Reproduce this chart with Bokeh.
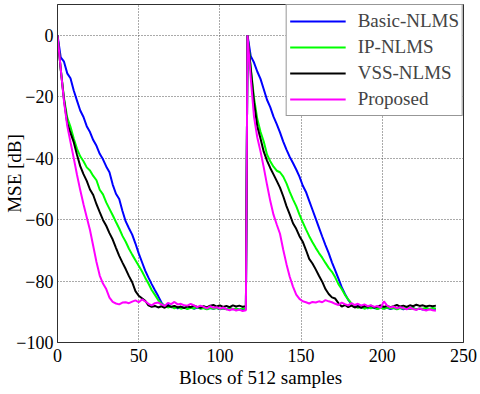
from bokeh.plotting import figure
from bokeh.models import FixedTicker, Legend, LegendItem, Range1d
from bokeh.embed import file_html
from bokeh.resources import INLINE

# x positions (blocks of 512 samples): two experiments, restart at block 117
blocks_run1 = list(range(0, 117, 2))
blocks_run2 = list(range(117, 234, 2))
blocks = blocks_run1 + blocks_run2

x_ticks = [0, 50, 100, 150, 200, 250]
y_ticks = [-100, -80, -60, -40, -20, 0]

basic_nlms = [
    0, -7.2, -8.6, -12.4, -14.0, -18.0, -21.3, -24.5, -26.6, -29.6, -31.5, -34.1, -36.0, -38.6, -40.4,
    -42.7, -44.6, -48.6, -51.6, -53.3, -57.2, -60.6, -62.8, -64.9, -67.8, -71.0, -73.8, -76.6, -78.9,
    -81.0, -83.0, -84.9, -87.0,
    -88.3, -87.6, -88.5, -88.2, -88.9, -88.4, -88.7, -88.9, -88.5, -89.0, -88.6, -88.9, -88.7, -89.1,
    -88.8, -89.0, -88.7, -89.2, -88.9, -89.1, -88.8, -89.2, -89.0, -89.3, -89.0, -89.2,
    # run 2
    0, -6.8, -8.9, -11.8, -14.2, -17.6, -21.0, -23.4, -26.5, -28.9, -31.6, -34.6, -37.2, -39.6, -41.6,
    -43.7, -46.0, -48.9, -51.0, -53.9, -56.8, -59.7, -62.6, -65.5, -68.3, -70.9, -73.9, -76.5, -79.2,
    -82.0, -84.2, -86.1, -87.4, -88.5, -88.1,
    -88.6, -88.3, -88.9, -88.5, -88.8, -89.0, -88.6, -88.9, -88.7, -89.1, -88.8, -89.0, -88.7, -89.2,
    -88.9, -89.1, -88.8, -89.2, -89.0, -89.3, -89.0, -89.2, -88.9, -89.1,
]

ip_nlms = [
    0, -11.0, -20.5, -26.8, -29.8, -33.6, -37.0, -39.4, -41.0, -43.0, -44.0, -45.8, -47.2, -50.3, -51.8,
    -54.4, -56.5, -58.6, -60.8, -62.9, -65.3, -67.2, -69.5, -71.4, -73.2, -75.0, -76.8, -78.9, -80.8,
    -82.9, -84.5, -86.2, -87.4, -88.0, -88.6,
    -88.3, -88.9, -88.5, -89.0, -88.6, -89.1, -88.7, -88.9, -88.5, -89.0, -88.8, -89.2, -88.7, -89.0,
    -88.8, -89.1, -88.9, -89.2, -88.8, -89.1, -89.0, -89.3, -88.9, -89.1,
    # run 2
    0, -10.5, -20.4, -27.2, -31.4, -34.6, -38.8, -41.0, -42.8, -44.1, -44.6, -46.0, -48.2, -51.0, -53.4,
    -55.6, -58.4, -60.8, -63.2, -65.4, -67.4, -69.2, -70.9, -72.4, -74.1, -75.7, -77.0, -78.8, -81.0,
    -82.6, -84.5, -86.0, -87.3, -88.2, -88.7,
    -88.4, -89.0, -88.6, -88.9, -88.5, -89.1, -88.7, -89.0, -88.6, -88.9, -88.7, -89.2, -88.8, -89.0,
    -88.6, -89.1, -88.8, -89.2, -88.9, -89.0, -88.7, -89.1, -88.8, -89.0,
]

vss_nlms = [
    0, -11.2, -21.0, -28.6, -31.8, -34.8, -38.9, -42.6, -45.2, -47.4, -50.2, -52.0, -55.0, -57.6, -60.1,
    -62.0, -64.4, -66.5, -69.2, -71.8, -74.0, -76.1, -78.4, -80.4, -83.3, -84.8, -85.6, -86.4, -87.9,
    -88.4, -88.1, -88.6, -88.2, -88.7, -88.0, -88.4, -88.1, -88.6, -88.3, -88.8, -88.2, -88.5, -88.0,
    -88.4, -88.7, -88.2, -88.6, -88.0, -87.8, -88.3, -87.9, -88.4, -88.1, -88.5, -87.9, -88.3, -88.0,
    -88.4, -88.2,
    # run 2
    0, -11.0, -21.8, -29.6, -33.6, -37.9, -40.8, -43.2, -45.3, -47.4, -49.6, -52.4, -55.6, -58.3, -61.2,
    -63.0, -65.4, -67.2, -69.9, -72.8, -74.3, -76.2, -78.3, -80.2, -82.6, -84.2, -85.3, -85.7, -87.2,
    -88.3, -87.8, -88.5, -88.0, -88.6, -88.2, -88.7, -88.1, -88.4, -88.0, -88.6, -88.3, -87.9, -88.4,
    -88.1, -88.5, -88.2, -87.8, -88.3, -88.0, -88.4, -87.9, -88.2, -87.7, -88.1, -87.9, -88.3, -88.0,
    -88.2, -88.0,
]

proposed = [
    0, -11.0, -21.5, -29.5, -34.8, -40.0, -45.4, -50.4, -55.0, -59.2, -63.4, -68.6, -73.8, -78.2, -80.8,
    -82.6, -85.4, -86.8, -87.3, -87.6, -87.0, -86.9, -87.2, -86.7, -86.3, -86.9, -86.0, -86.6, -87.4,
    -87.9, -87.2, -87.0, -87.6, -88.1, -87.1, -87.5, -86.8, -87.6, -87.4, -87.9, -88.0, -87.4, -87.9,
    -88.5, -88.0, -88.4, -88.9, -88.2, -88.7, -88.5, -89.0, -88.6, -89.2, -89.5, -89.1, -89.6, -89.3,
    -89.8, -89.5,
    # run 2
    0, -14.0, -26.5, -33.2, -37.8, -43.0, -48.6, -53.9, -58.4, -61.6, -64.6, -69.8, -74.5, -78.6, -81.8,
    -84.4, -85.8, -86.6, -86.9, -87.3, -86.8, -87.0, -86.6, -86.9, -86.2, -86.6, -86.9, -87.4, -87.8,
    -87.0, -87.5, -87.9, -87.2, -87.8, -87.4, -88.0, -87.6, -88.2, -87.9, -88.4, -88.1, -88.7, -86.6,
    -88.0, -88.6, -88.3, -88.9, -88.5, -88.8, -89.2, -88.7, -89.1, -89.4, -88.9, -89.3, -89.6, -89.2,
    -89.5, -89.7,
]

series_names = ["Basic-NLMS", "IP-NLMS", "VSS-NLMS", "Proposed"]
series_values = [basic_nlms, ip_nlms, vss_nlms, proposed]
series_colors = ["#0000FF", "#00FF00", "#000000", "#FF00FF"]

SERIF = "Liberation Serif"

p = figure(width=478, height=393, x_range=Range1d(0, 250), y_range=Range1d(-100, 10),
           output_backend="svg", toolbar_location=None,
           min_border_left=57, min_border_right=15, min_border_top=4, min_border_bottom=51)

p.background_fill_color = "white"
p.border_fill_color = "white"
p.outline_line_color = "#303030"
p.outline_line_width = 1

items = []
for name, vals, col in zip(series_names, series_values, series_colors):
    r = p.line(blocks, vals, line_color=col, line_width=2)
    items.append(LegendItem(label=name, renderers=[r]))

legend = Legend(items=items, location="top_right", margin=0, padding=3, spacing=0,
                label_height=26, glyph_height=26, glyph_width=56, label_standoff=12,
                label_text_font=SERIF, label_text_font_size="19px",
                border_line_color="#303030", border_line_width=1,
                background_fill_color="white", background_fill_alpha=1)
p.add_layout(legend, "center")

p.xaxis.ticker = FixedTicker(ticks=x_ticks)
p.yaxis.ticker = FixedTicker(ticks=y_ticks)

for ax in (p.xaxis[0], p.yaxis[0]):
    ax.major_label_text_font = SERIF
    ax.major_label_text_font_size = "18px"
    ax.major_label_text_color = "black"
    ax.axis_label_text_font = SERIF
    ax.axis_label_text_font_size = "19px"
    ax.axis_label_text_font_style = "normal"
    ax.axis_label_text_color = "black"
    ax.axis_line_color = "#303030"
    ax.major_tick_in = 0
    ax.major_tick_out = 0
    ax.minor_tick_line_color = None

p.xaxis.axis_label = "Blocs of 512 samples"
p.yaxis.axis_label = "MSE [dB]"
p.xaxis.major_label_standoff = 6
p.xaxis.axis_label_standoff = 2
p.yaxis.major_label_standoff = 4
p.yaxis.axis_label_standoff = -12

p.grid.grid_line_color = "#555555"
p.grid.grid_line_dash = "1 2"
p.grid.grid_line_width = 1

open("out.html", "w").write(file_html(p, INLINE))
